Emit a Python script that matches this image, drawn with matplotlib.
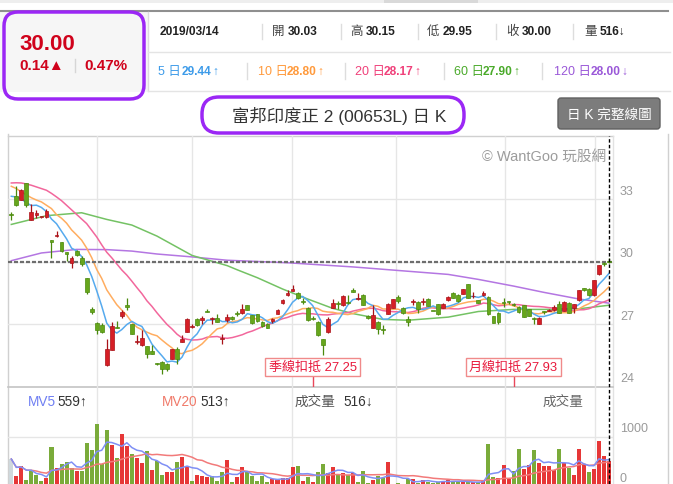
import numpy as np
import pandas as pd
import matplotlib
matplotlib.use("Agg")
import matplotlib.pyplot as plt
from matplotlib import patches, transforms

plt.rcParams['font.family'] = ['Liberation Sans', 'Noto Sans CJK TC', 'DejaVu Sans']

# ---- daily candles ----
opens = [32.27, 33.13, 32.97, 33.77, 32.01, 32.25, 32.12, 32.14, 31.02, 31.22,
         30.92, 30.44, 29.93, 30.50, 30.15, 29.21, 27.72, 27.05, 26.97, 25.02,
         25.77, 26.84, 27.40, 27.91, 26.98, 26.15, 26.00, 25.93, 25.72, 25.10,
         25.17, 25.10, 25.34, 25.81, 26.13, 26.62, 26.85, 27.22, 27.19, 27.60,
         27.25, 27.27, 26.30, 27.18, 27.34, 27.51, 27.54, 27.89, 27.42, 27.47,
         27.10, 27.02, 27.14, 27.50, 28.00, 28.37, 28.58, 28.50, 28.10, 27.78,
         27.28, 27.10, 26.29, 26.61, 27.78, 28.00, 27.90, 28.02, 28.61, 28.20,
         28.40, 27.40, 26.82, 27.10, 26.74, 27.49, 27.78, 28.30, 27.78, 27.25,
         28.05, 28.06, 28.05, 28.20, 27.62, 27.94, 27.78, 28.14, 28.50, 28.37,
         28.45, 28.90, 28.32, 28.13, 28.37, 28.30, 27.38, 27.54, 28.03, 28.06,
         27.98, 27.82, 27.89, 27.70, 27.30, 27.02, 27.58, 27.63, 27.66, 27.98,
         27.62, 28.02, 27.78, 28.14, 28.72, 28.69, 28.38, 29.38, 29.88, 30.03]
highs = [32.38, 33.61, 33.48, 33.78, 32.78, 32.46, 32.15, 32.52, 31.04, 31.46,
         30.95, 30.45, 30.25, 30.55, 30.25, 29.23, 27.82, 27.08, 27.05, 26.26,
         27.08, 27.14, 27.66, 28.23, 27.00, 26.47, 26.70, 25.95, 26.01, 25.12,
         25.20, 25.14, 25.81, 25.90, 26.45, 27.30, 26.98, 27.30, 27.38, 27.73,
         27.34, 27.46, 26.50, 27.46, 27.38, 27.60, 27.94, 27.90, 27.45, 27.50,
         27.12, 27.05, 27.29, 27.73, 28.18, 28.62, 28.87, 28.53, 28.24, 27.80,
         27.38, 27.12, 26.30, 27.33, 28.18, 28.08, 28.37, 28.40, 28.74, 28.50,
         28.42, 27.42, 27.89, 27.12, 26.93, 28.02, 28.20, 28.37, 27.82, 27.38,
         28.20, 28.08, 28.25, 28.25, 27.64, 27.96, 28.00, 28.35, 28.52, 28.46,
         28.70, 28.92, 28.53, 28.15, 28.56, 28.32, 27.40, 27.56, 28.26, 28.10,
         28.00, 27.84, 27.90, 27.72, 27.32, 27.32, 27.62, 27.70, 27.89, 28.08,
         28.08, 28.05, 27.96, 28.64, 28.74, 28.71, 29.11, 29.84, 29.97, 30.15]
lows = [31.98, 32.65, 32.94, 32.60, 31.98, 32.10, 32.10, 32.10, 30.18, 31.20,
        30.48, 30.02, 29.70, 30.27, 29.80, 28.42, 27.50, 26.50, 26.58, 25.00,
        25.75, 26.80, 27.27, 27.69, 26.50, 26.05, 25.96, 25.37, 25.55, 25.05,
        24.58, 24.74, 25.32, 25.10, 26.12, 26.60, 26.80, 26.90, 26.98, 27.58,
        27.02, 27.09, 26.05, 27.10, 27.18, 27.40, 27.50, 27.65, 27.00, 27.10,
        26.85, 26.80, 27.03, 27.48, 27.98, 28.34, 28.57, 28.20, 27.97, 27.15,
        27.18, 26.44, 25.50, 26.58, 27.78, 27.74, 27.88, 27.98, 28.52, 28.14,
        27.90, 27.25, 26.80, 26.53, 26.53, 27.48, 27.76, 28.02, 27.50, 26.90,
        27.90, 27.54, 27.90, 27.86, 27.60, 27.44, 27.76, 28.12, 28.24, 28.05,
        28.42, 28.24, 28.26, 28.00, 28.34, 27.44, 27.04, 27.02, 27.82, 27.94,
        27.88, 27.54, 27.32, 27.36, 27.02, 27.00, 27.50, 27.60, 27.63, 27.52,
        27.60, 27.52, 27.54, 28.12, 28.60, 28.36, 28.36, 29.33, 29.78, 29.95]
closes = [32.23, 32.70, 33.42, 32.70, 32.38, 32.32, 32.15, 32.42, 30.92, 31.26,
          30.50, 30.34, 30.18, 30.30, 29.86, 28.54, 27.56, 26.73, 26.60, 25.78,
          26.89, 26.82, 27.58, 27.80, 26.54, 26.18, 26.31, 25.58, 25.56, 25.08,
          24.82, 24.86, 25.78, 25.30, 26.30, 27.22, 26.87, 26.95, 27.30, 27.58,
          27.27, 27.10, 26.32, 27.34, 27.25, 27.49, 27.74, 27.66, 27.06, 27.14,
          26.88, 26.82, 27.26, 27.66, 28.14, 28.50, 28.66, 28.26, 28.06, 27.18,
          27.26, 26.46, 25.98, 27.26, 28.00, 27.98, 28.34, 28.00, 28.53, 28.22,
          27.92, 27.28, 27.44, 26.77, 26.72, 27.97, 28.18, 28.10, 27.54, 27.10,
          28.07, 27.70, 28.07, 27.88, 27.62, 27.46, 27.97, 28.30, 28.26, 28.10,
          28.66, 28.26, 28.34, 28.02, 28.50, 27.46, 27.06, 27.09, 28.00, 28.04,
          27.90, 27.56, 27.34, 27.38, 27.22, 27.30, 27.56, 27.66, 27.82, 27.54,
          28.05, 27.54, 27.94, 28.61, 28.62, 28.38, 29.09, 29.81, 29.86, 30.00]

volume = [560, 227, 413, 147, 327, 240, 127, 173, 793, 373,
          460, 493, 373, 327, 327, 880, 747, 1260, 460, 1140,
          840, 573, 1060, 813, 660, 573, 480, 720, 347, 520,
          240, 293, 307, 493, 600, 400, 127, 240, 227, 207,
          213, 127, 293, 540, 93, 200, 400, 327, 227, 127,
          213, 93, 160, 160, 180, 180, 400, 420, 127, 207,
          93, 293, 453, 280, 400, 260, 273, 247, 280, 93,
          320, 80, 140, 213, 180, 500, 60, 80, 60, 160,
          160, 80, 140, 93, 80, 107, 127, 140, 107, 93,
          107, 93, 93, 93, 127, 860, 193, 173, 440, 160,
          327, 760, 360, 440, 740, 480, 413, 427, 347, 760,
          480, 373, 240, 760, 460, 307, 360, 927, 627, 516]
vol_dir = ("nrrggggrgr" "gggrgggggg" "rgrrgrrgrg" "grrgrrgrrr"
           "gggrgrrggg" "ggrrrrrgrg" "rggrrgrgrg" "ggrggrrggg"
           "rgrgggrrgg" "rgrgrggrrr" "ggrrgrrrrg" "rgrrrgrrrr")

# moving averages: first values (they need older days)
ma5_head = [33.13, 33.10, 33.00, 32.82]
ma10_head = [33.61, 33.50, 33.34, 33.20, 33.06, 32.95, 32.86, 32.70, 32.54]
ma20_head = [33.77, 33.78, 33.77, 33.72, 33.66, 33.58, 33.50, 33.42, 33.27, 33.10,
             32.92, 32.70, 32.48, 32.26, 32.04, 31.82, 31.50, 31.18, 30.80]
ma60_day = [1, 8, 15, 20, 25, 30, 37, 44, 46, 50, 55, 60, 65, 69, 75, 80, 88, 94, 101, 107, 114, 120]
ma60_val = [31.78, 32.20, 32.34, 32.02, 31.75, 31.22, 30.29, 29.80, 29.60, 29.22, 28.68, 28.20,
            27.75, 27.50, 27.22, 27.18, 27.33, 27.60, 27.70, 27.70, 27.73, 27.90]
ma120_day = [1, 7, 14, 20, 25, 30, 37, 44, 56, 69, 88, 94, 101, 107, 114, 120]
ma120_val = [30.04, 30.41, 30.58, 30.57, 30.50, 30.36, 30.22, 30.06, 29.94, 29.74,
             29.38, 29.14, 28.82, 28.52, 28.20, 28.00]

grid_days = [17.06, 36.0, 55.9, 76.6, 98.3, 116.2]
price_ticks = [24, 27, 30, 33]

header_date = "2019/03/14"
header_change = ["0.14▲", "0.47%"]
header_ohlcv = [("開", "30.03", ""), ("高", "30.15", ""), ("低", "29.95", ""),
                ("收", "30.00", ""), ("量", "516", "↓")]
header_ma = [("5 日", "29.44", "↑"), ("10 日", "28.80", "↑"), ("20 日", "28.17", "↑"),
             ("60 日", "27.90", "↑"), ("120 日", "28.00", "↓")]
ma_colors = ['#3d9be9', '#ff9a3c', '#f0407a', '#4aaa2a', '#9a58d8']
line_colors = ['#56aaee', '#ffad60', '#f2679c', '#74c264', '#b476e2']

O = np.array(opens); Hh = np.array(highs); L = np.array(lows); C = np.array(closes)
n = len(C)
x = np.arange(n)
cs = pd.Series(C)
ma5 = cs.rolling(5).mean().values; ma5[:4] = ma5_head
ma10 = cs.rolling(10).mean().values; ma10[:9] = ma10_head
ma20 = cs.rolling(20).mean().values; ma20[:19] = ma20_head
vs = pd.Series(volume, dtype=float)
mv5 = vs.rolling(5, min_periods=1).mean().values
mv20 = vs.rolling(20, min_periods=1).mean().values

W, H = 673, 485
fig = plt.figure(figsize=(6.73, 4.85), dpi=100)


def frac(x0, y0, x1, y1):
    return [x0 / W, 1 - y1 / H, (x1 - x0) / W, (y1 - y0) / H]


ui = fig.add_axes([0, 0, 1, 1], zorder=0)
ui.set_xlim(0, W); ui.set_ylim(H, 0); ui.axis('off')

# ---- header ----
ui.add_patch(patches.Rectangle((0, 0), W, 4, fc='#eeeeee', ec='none'))
ui.add_patch(patches.Rectangle((384, 0), 94, 4, fc='#d9d9d9', ec='none'))
ui.plot([0, 668], [11.5, 11.5], color='#8f8f8f', lw=1.5)
ui.add_patch(patches.Rectangle((0, 12.5), 148, 80, fc='#f6f6f6', ec='none'))
ui.plot([148, 148], [12.5, 92], color='#dddddd', lw=1)
ui.plot([148, 670], [53, 53], color='#e4e4e4', lw=1)
ui.plot([148, 670], [92, 92], color='#e4e4e4', lw=1)
for sx in [262, 341, 418, 496, 573]:
    ui.plot([sx, sx], [25, 40], color='#dddddd', lw=1)
for sx in [247, 345, 444, 542]:
    ui.plot([sx, sx], [64, 80], color='#dddddd', lw=1)

RED_T = '#d0021b'
ui.text(19, 45, f"{closes[-1]:.2f}", fontsize=16, fontweight='bold', color=RED_T, va='center')
ui.text(19, 66.5, header_change[0], fontsize=11, fontweight='bold', color=RED_T, va='center')
ui.plot([75, 75], [60, 73], color='#d6d6d6', lw=1)
ui.text(84, 66.5, header_change[1], fontsize=11, fontweight='bold', color=RED_T, va='center')

ui.text(160, 32, header_date, fontsize=8.6, fontweight='bold', color='#222222', va='center')
for (lab, val, arr), lx in zip(header_ohlcv, [272, 350, 427, 506, 584]):
    ui.text(lx, 32, lab, fontsize=9, color='#444444', va='center')
    ui.text(lx + 16, 32, val + arr, fontsize=8.6, fontweight='bold', color='#222222', va='center')
for (lab, val, arr), lx, col in zip(header_ma, [158, 258, 355, 454, 554], ma_colors):
    off = 24 if len(lab) <= 3 else 29 if len(lab) == 4 else 37
    ui.text(lx, 72, lab, fontsize=9, color=col, va='center')
    ui.text(lx + off, 72, val, fontsize=8.6, fontweight='bold', color=col, va='center')
    ui.text(lx + off + 30, 72, arr, fontsize=8.6, color=col, va='center')

purple = '#9b27f5'
ui.add_patch(patches.FancyBboxPatch((4, 13), 140, 87, boxstyle='round,pad=0,rounding_size=14',
                                    fc='none', ec=purple, lw=2.5, zorder=5))
ui.add_patch(patches.FancyBboxPatch((202, 98), 262, 36, boxstyle='round,pad=0,rounding_size=17',
                                    fc='white', ec=purple, lw=2.5, zorder=5))
ui.text(339, 116, "富邦印度正 2 (00653L) 日 K", fontsize=12.5, color='#333333',
        ha='center', va='center', zorder=6)
ui.add_patch(patches.FancyBboxPatch((558, 99), 102, 31, boxstyle='round,pad=0,rounding_size=3',
                                    fc='#7c7c7c', ec='#606060', lw=1, zorder=5))
ui.text(609, 114.5, "日 K 完整線圖", fontsize=9.8, color='white', ha='center', va='center', zorder=6)

# chart frame
frame = '#d0d0d0'
ui.plot([8, 8], [135, 485], color=frame, lw=1)
ui.plot([8, 613], [137, 137], color=frame, lw=1)
ui.plot([613, 613], [137, 485], color='#e2e2e2', lw=1)
ui.plot([668, 668], [135, 485], color=frame, lw=1)
ui.plot([8, 613], [388, 388], color='#c4c4c4', lw=1.2)

# ---- price panel ----
ax = fig.add_axes(frac(8, 137, 613, 388), zorder=2)
ax.set_facecolor('none')
ax.set_xlim(-0.66, 119.8)
ax.set_ylim(23.975, 36.025)
for s in ax.spines.values():
    s.set_visible(False)
ax.set_xticks([]); ax.set_yticks([])
for g in grid_days:
    ax.axvline(g, color='#e6e6e6', lw=1, zorder=0)
for v in price_ticks[1:]:
    ax.axhline(v, color='#e6e6e6', lw=1, zorder=0)
for v in price_ticks:
    ax.annotate(str(v), xy=(1, v), xycoords=('axes fraction', 'data'), xytext=(5, 6),
                textcoords='offset points', fontsize=9, color='#9a9a9a', va='center',
                annotation_clip=False)

ax.text(0.988, 0.92, "© WantGoo 玩股網", transform=ax.transAxes, ha='right', va='center',
        fontsize=10.5, color='#9c9c9c')

ax.axhline(C[-1], color='#6e6e6e', lw=1.6, dashes=(1.8, 0.9), zorder=3)

ax.plot(np.array(ma120_day) - 1, ma120_val, color=line_colors[4], lw=1.1, zorder=2)
ax.plot(np.array(ma60_day) - 1, ma60_val, color=line_colors[3], lw=1.1, zorder=2)
ax.plot(x, ma20, color=line_colors[2], lw=1.1, zorder=2)
ax.plot(x, ma10, color=line_colors[1], lw=1.1, zorder=2)
ax.plot(x, ma5, color=line_colors[0], lw=1.1, zorder=2)

up = C > O
body = np.where(up, '#d61f26', '#67a61c')
edge = np.where(up, '#a81218', '#4a8a0c')
ax.vlines(x, L, Hh, colors=edge, lw=0.9, zorder=4)
ax.bar(x, np.maximum(np.abs(C - O), 0.045), 0.76, bottom=np.minimum(O, C),
       color=body, edgecolor=edge, linewidth=0.5, zorder=5)

# 季線 / 月線 deduction markers (60 and 20 days back)
tr = transforms.blended_transform_factory(ax.transData, ax.transAxes)
for back, val, name in [(60, "27.25", "季線扣抵"), (20, "27.93", "月線扣抵")]:
    d = n - back
    ax.plot([d, d], [0, 0.046], transform=tr, color='#e8475a', lw=1, zorder=6)
    ax.text(d, 0.08, name + " " + val, transform=tr, ha='center', va='center',
            fontsize=9.4, color='#e8193c', zorder=7,
            bbox=dict(boxstyle='square,pad=0.25', fc='white', ec='#f08a8a', lw=1))

ax.axvline(x[-1], color='black', lw=1, dashes=(2.5, 1.6), zorder=8)

# ---- volume panel ----
axv = fig.add_axes(frac(8, 388, 613, 485), zorder=2)
axv.set_facecolor('none')
axv.set_xlim(-0.66, 119.8)
axv.set_ylim(60, 2000)
for s in axv.spines.values():
    s.set_visible(False)
axv.set_xticks([]); axv.set_yticks([])
for g in grid_days:
    axv.axvline(g, color='#e6e6e6', lw=1, zorder=0)
axv.axhline(1000, color='#e6e6e6', lw=1, zorder=0)
for v in [0, 1000]:
    axv.annotate(str(v), xy=(1, v), xycoords=('axes fraction', 'data'), xytext=(5, 6.5),
                 textcoords='offset points', fontsize=9, color='#9a9a9a', va='center',
                 annotation_clip=False)
vcol = {'r': '#e63737', 'g': '#7aab3a', 'n': '#cfd8dc'}
axv.bar(x, volume, 0.8, color=[vcol[c] for c in vol_dir], zorder=2)
axv.plot(x, mv20, color='#f27a7a', lw=1.1, zorder=3)
axv.plot(x, mv5, color='#7f8ff5', lw=1.1, zorder=3)
axv.axvline(x[-1], color='black', lw=1, dashes=(2.5, 1.6), zorder=8)

ui2 = fig.add_axes([0, 0, 1, 1], zorder=3)
ui2.set_xlim(0, W); ui2.set_ylim(H, 0); ui2.axis('off')
ui2.text(28, 402, "MV5", fontsize=9.8, color='#6f7ff3', va='center')
ui2.text(57, 402, "559↑", fontsize=9.8, color='#333333', va='center')
ui2.text(162, 402, "MV20", fontsize=9.8, color='#f07a6a', va='center')
ui2.text(200, 402, "513↑", fontsize=9.8, color='#333333', va='center')
ui2.text(295, 402, "成交量", fontsize=9.8, color='#555555', va='center')
ui2.text(343, 402, "516↓", fontsize=9.8, color='#333333', va='center')
ui2.text(543, 402, "成交量", fontsize=9.8, color='#666666', va='center')

fig.savefig("out.png", dpi=100)
